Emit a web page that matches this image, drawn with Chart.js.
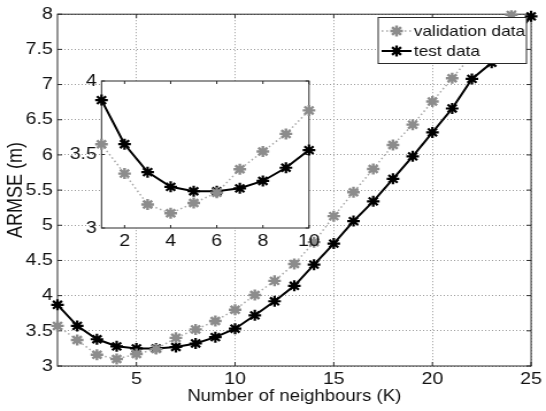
<!DOCTYPE html>
<html>
<head>
<meta charset="utf-8">
<script src="https://cdn.jsdelivr.net/npm/chart.js@4.4.1/dist/chart.umd.min.js"></script>
<style>
  html, body { margin: 0; padding: 0; background: #fff; }
  #wrap { position: relative; width: 546px; height: 411px; overflow: hidden; }
  #wrap canvas { position: absolute; left: 0; top: 0; }
</style>
</head>
<body>
<div id="wrap">
  <!-- drawn at 475px wide and shown at 546px: the figure is a little wider than tall -->
  <canvas id="main" width="475" height="411" style="width:546px;height:411px"></canvas>
  <canvas id="inset" width="475" height="411" style="width:546px;height:411px"></canvas>
</div>
<script>
// ARMSE against number of neighbours K
var neighbours = [1, 2, 3, 4, 5, 6, 7, 8, 9, 10, 11, 12, 13, 14, 15, 16, 17, 18, 19, 20, 21, 22, 23, 24, 25];
var validationRmse = [3.57, 3.37, 3.16, 3.10, 3.17, 3.24, 3.40, 3.52, 3.64, 3.80, 4.01, 4.21, 4.45,
                      4.76, 5.13, 5.47, 5.80, 6.14, 6.43, 6.76, 7.09, 7.42, 7.70, 7.99, 8.28];
var testRmse = [3.87, 3.57, 3.38, 3.28, 3.25, 3.25, 3.27, 3.32, 3.41, 3.53, 3.72, 3.92, 4.14,
                4.44, 4.74, 5.06, 5.34, 5.66, 5.98, 6.32, 6.66, 7.08, 7.31, 7.62, 7.97];

// the zoomed view only covers the first ten K values
var insetCount = 10;

var mainXTicks = [5, 10, 15, 20, 25];
var mainYTicks = [3, 3.5, 4, 4.5, 5, 5.5, 6, 6.5, 7, 7.5, 8];
var insetXTicks = [2, 4, 6, 8, 10];
var insetYTicks = [3, 3.5, 4];
var seriesNames = ['validation data', 'test data'];

var FONT = '"Liberation Sans", Arial, Helvetica, sans-serif';
var AXIS_COLOR = '#2a2a2a';
var TEXT_COLOR = '#111';
var VAL_COLOR = '#8c8c8c';
var VAL_LINE = '#a8a8a8';
var TEST_COLOR = '#000';

function points(values, count) {
  return values.slice(0, count).map(function (v, i) {
    return { x: neighbours[i], y: v };
  });
}

function datasets(count, clipTop) {
  return [
    {
      label: seriesNames[0],
      data: points(validationRmse, count),
      borderColor: VAL_LINE,
      borderWidth: 1.5,
      borderDash: [1.5, 2.5],
      pointStyle: 'star',
      pointRadius: 5.5,
      pointBorderWidth: 2.4,
      pointBorderColor: VAL_COLOR,
      pointBackgroundColor: VAL_COLOR,
      tension: 0,
      clip: { left: false, right: false, bottom: false, top: clipTop }
    },
    {
      label: seriesNames[1],
      data: points(testRmse, count),
      borderColor: TEST_COLOR,
      borderWidth: 2,
      pointStyle: 'star',
      pointRadius: 5.5,
      pointBorderWidth: 2.2,
      pointBorderColor: TEST_COLOR,
      pointBackgroundColor: TEST_COLOR,
      tension: 0,
      clip: false
    }
  ];
}

// Matlab style box: frame on all four sides with short ticks pointing inwards
function boxPlugin(tickLen, whiteFill) {
  return {
    id: 'box',
    beforeDraw: function (chart) {
      if (!whiteFill) return;
      var a = chart.chartArea;
      chart.ctx.save();
      chart.ctx.fillStyle = '#fff';
      chart.ctx.fillRect(a.left, a.top, a.right - a.left, a.bottom - a.top);
      chart.ctx.restore();
    },
    beforeDatasetsDraw: function (chart) {
      var ctx = chart.ctx;
      var a = chart.chartArea;
      var xs = chart.scales.x;
      var ys = chart.scales.y;
      ctx.save();
      ctx.strokeStyle = AXIS_COLOR;
      ctx.lineWidth = 1;
      ctx.beginPath();
      xs.ticks.forEach(function (t) {
        var px = xs.getPixelForValue(t.value);
        ctx.moveTo(px, a.bottom);
        ctx.lineTo(px, a.bottom - tickLen);
        ctx.moveTo(px, a.top);
        ctx.lineTo(px, a.top + tickLen);
      });
      ys.ticks.forEach(function (t) {
        var py = ys.getPixelForValue(t.value);
        ctx.moveTo(a.left, py);
        ctx.lineTo(a.left + tickLen, py);
        ctx.moveTo(a.right, py);
        ctx.lineTo(a.right - tickLen, py);
      });
      ctx.stroke();
      ctx.strokeRect(a.left, a.top, a.right - a.left, a.bottom - a.top);
      ctx.restore();
    }
  };
}

// boxed legend in the top right corner, line sample with the marker in its middle
var legendPlugin = {
  id: 'boxLegend',
  afterDatasetsDraw: function (chart) {
    var ctx = chart.ctx;
    var left = 329, top = 17.5, width = 129, height = 46;
    var rows = [31, 51];
    ctx.save();
    ctx.fillStyle = '#fff';
    ctx.fillRect(left, top, width, height);
    ctx.strokeStyle = AXIS_COLOR;
    ctx.lineWidth = 1;
    ctx.strokeRect(left, top, width, height);

    chart.data.datasets.forEach(function (ds, i) {
      var y = rows[i];
      ctx.save();
      ctx.strokeStyle = ds.borderColor;
      ctx.lineWidth = ds.borderWidth;
      ctx.setLineDash(ds.borderDash || []);
      ctx.beginPath();
      ctx.moveTo(332, y);
      ctx.lineTo(358, y);
      ctx.stroke();
      ctx.restore();

      ctx.save();
      ctx.strokeStyle = ds.pointBorderColor;
      ctx.fillStyle = ds.pointBackgroundColor;
      ctx.lineWidth = ds.pointBorderWidth;
      Chart.helpers.drawPoint(ctx, {
        pointStyle: 'star', rotation: 0, radius: ds.pointRadius, borderWidth: ds.pointBorderWidth
      }, 345, y);
      ctx.restore();

      ctx.fillStyle = TEXT_COLOR;
      ctx.font = '15px ' + FONT;
      ctx.textAlign = 'left';
      ctx.textBaseline = 'middle';
      ctx.fillText(ds.label, 360, y + 1);
    });
    ctx.restore();
  }
};

function setTicks(values) {
  return function (scale) {
    scale.ticks = values.map(function (v) { return { value: v }; });
  };
}

// plain numbers: 3, 3.5, 4 rather than 3.0, 3.5, 4.0
function plainLabel(value) {
  return String(Math.round(value * 100) / 100);
}

var tickFont = { family: FONT, size: 17 };

new Chart(document.getElementById('main'), {
  type: 'line',
  data: { datasets: datasets(neighbours.length, 4) },
  options: {
    responsive: false,
    animation: false,
    devicePixelRatio: 1,
    events: [],
    layout: { autoPadding: false, padding: { left: 0, top: 13, right: 9.8, bottom: 0 } },
    plugins: { legend: { display: false }, tooltip: { enabled: false } },
    scales: {
      x: {
        type: 'linear',
        min: 1,
        max: 25,
        afterBuildTicks: setTicks(mainXTicks),
        afterFit: function (scale) { scale.height = 45; },
        grid: { color: '#9a9a9a', lineWidth: 1, drawTicks: false },
        border: { display: false, dash: [1, 2] },
        ticks: { color: TEXT_COLOR, font: tickFont, padding: 3.5, maxRotation: 0, callback: plainLabel },
        title: {
          display: true, text: 'Number of neighbours (K)', color: TEXT_COLOR,
          font: { family: FONT, size: 16.2 }, padding: { top: 0, bottom: 5 }
        }
      },
      y: {
        min: 3,
        max: 8,
        afterBuildTicks: setTicks(mainYTicks),
        afterFit: function (scale) { scale.width = 50; },
        grid: { color: '#9a9a9a', lineWidth: 1, drawTicks: false },
        border: { display: false, dash: [1, 2] },
        ticks: { color: TEXT_COLOR, font: tickFont, padding: 4, callback: plainLabel },
        title: {
          display: true, text: 'ARMSE (m)', color: TEXT_COLOR,
          font: { family: FONT, size: 18 }, padding: { top: 3, bottom: 0 }
        }
      }
    }
  },
  plugins: [boxPlugin(4, false), legendPlugin]
});

new Chart(document.getElementById('inset'), {
  type: 'line',
  data: { datasets: datasets(insetCount, false) },
  options: {
    responsive: false,
    animation: false,
    devicePixelRatio: 1,
    events: [],
    layout: { autoPadding: false, padding: { left: 48.3, top: 81, right: 206.2, bottom: 153 } },
    plugins: { legend: { display: false }, tooltip: { enabled: false } },
    scales: {
      x: {
        type: 'linear',
        min: 1,
        max: 10,
        afterBuildTicks: setTicks(insetXTicks),
        afterFit: function (scale) { scale.height = 30; },
        grid: { display: false, drawTicks: false },
        border: { display: false },
        ticks: { color: TEXT_COLOR, font: tickFont, padding: 3.5, maxRotation: 0, callback: plainLabel }
      },
      y: {
        min: 3,
        max: 4,
        afterBuildTicks: setTicks(insetYTicks),
        afterFit: function (scale) { scale.width = 40; },
        grid: { display: false, drawTicks: false },
        border: { display: false },
        ticks: { color: TEXT_COLOR, font: tickFont, padding: 4, callback: plainLabel }
      }
    }
  },
  plugins: [boxPlugin(3, true)]
});
</script>
</body>
</html>
